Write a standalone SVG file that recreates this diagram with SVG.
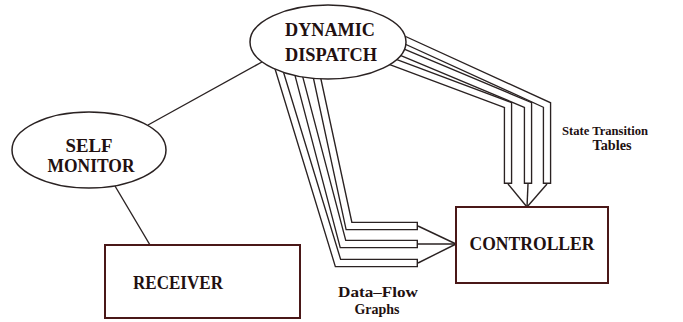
<svg xmlns="http://www.w3.org/2000/svg" width="683" height="322" viewBox="0 0 683 322">
<style>
.bg{fill:#ffffff}
.edge{stroke:#2a2222;stroke-width:1.4;fill:none}
.sd{stroke:#2a2222;stroke-width:8.5;fill:none;stroke-linejoin:miter;stroke-linecap:butt}
.sw{stroke:#ffffff;stroke-width:5.8;fill:none;stroke-linejoin:miter;stroke-linecap:butt}
.node{fill:#ffffff;stroke:#2a2222;stroke-width:1.5}
.box{fill:#ffffff;stroke:#4a1818;stroke-width:2}
.t{font-family:"Liberation Serif","Times New Roman",serif;font-weight:bold;fill:#221010;text-anchor:middle}
</style>
<rect class="bg" x="0" y="0" width="683" height="322"/>
<g id="connectors">
  <line class="edge" x1="148" y1="125" x2="262" y2="62"/>
  <line class="edge" x1="115" y1="186" x2="150" y2="245"/>
  <path class="sd" d="M273 50 L338 263 L418 263"/>
  <path class="sw" d="M273 50 L338 263 L416.6 263"/>
  <path class="sd" d="M292 50 L343 244 L418 244"/>
  <path class="sw" d="M292 50 L343 244 L416.6 244"/>
  <path class="sd" d="M311 50 L349 226 L418 226"/>
  <path class="sw" d="M311 50 L349 226 L416.6 226"/>
  <line class="edge" x1="418" y1="226" x2="456" y2="244"/>
  <line class="edge" x1="418" y1="244" x2="456" y2="244"/>
  <line class="edge" x1="418" y1="263" x2="456" y2="244"/>
  <path class="sd" d="M385 59 L508 105 L508 184"/>
  <path class="sw" d="M385 59 L508 105 L508 182.6"/>
  <path class="sd" d="M385 45 L528 105 L528 184"/>
  <path class="sw" d="M385 45 L528 105 L528 182.6"/>
  <path class="sd" d="M385 31 L547 105 L547 184"/>
  <path class="sw" d="M385 31 L547 105 L547 182.6"/>
  <line class="edge" x1="508" y1="184" x2="527" y2="207"/>
  <line class="edge" x1="528" y1="184" x2="527" y2="207"/>
  <line class="edge" x1="547" y1="184" x2="527" y2="207"/>
</g>
<g id="dynamic-dispatch">
  <ellipse class="node" cx="328" cy="42" rx="78" ry="37"/>
  <text class="t" x="330" y="36" font-size="19" textLength="90" lengthAdjust="spacingAndGlyphs">DYNAMIC</text>
  <text class="t" x="331" y="61" font-size="19" textLength="92" lengthAdjust="spacingAndGlyphs">DISPATCH</text>
</g>
<g id="self-monitor">
  <ellipse class="node" cx="89" cy="150" rx="77" ry="38"/>
  <text class="t" x="89" y="152" font-size="18" textLength="47" lengthAdjust="spacingAndGlyphs">SELF</text>
  <text class="t" x="91" y="172" font-size="18" textLength="87" lengthAdjust="spacingAndGlyphs">MONITOR</text>
</g>
<g id="receiver">
  <rect class="box" x="105" y="245" width="195" height="73"/>
  <text class="t" x="178" y="289" font-size="19" textLength="90" lengthAdjust="spacingAndGlyphs">RECEIVER</text>
</g>
<g id="controller">
  <rect class="box" x="456" y="207" width="152" height="76"/>
  <text class="t" x="532" y="250" font-size="19" textLength="125" lengthAdjust="spacingAndGlyphs">CONTROLLER</text>
</g>
<g id="labels">
  <text class="t" x="605" y="135" font-size="13.5" textLength="86" lengthAdjust="spacingAndGlyphs">State Transition</text>
  <text class="t" x="612" y="150" font-size="14" textLength="39" lengthAdjust="spacingAndGlyphs">Tables</text>
  <text class="t" x="378" y="297" font-size="15" textLength="80" lengthAdjust="spacingAndGlyphs">Data–Flow</text>
  <text class="t" x="377" y="314" font-size="15" textLength="45" lengthAdjust="spacingAndGlyphs">Graphs</text>
</g>
</svg>
